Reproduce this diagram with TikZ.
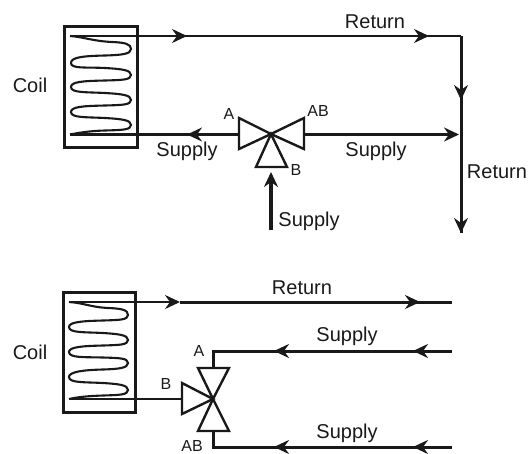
\documentclass[tikz,border=0pt]{standalone}
\usepackage{fontspec}
\setmainfont{Liberation Sans}
\usetikzlibrary{arrows.meta}
\tikzset{
  ink/.style={draw=black!90, line cap=butt},
  pipe/.style={ink, line width=2.2pt},
  thickpipe/.style={ink, line width=3pt},
  box/.style={ink, line width=3pt},
  coilline/.style={ink, line width=2.1pt},
  valve/.style={ink, line width=2.4pt, line join=miter, fill=white},
  head/.style={-{Stealth[length=15pt,width=14pt,inset=5pt]}},
  lab/.style={font=\fontsize{20}{22}\selectfont, text=black!90, inner sep=0pt},
  port/.style={font=\fontsize{16}{18}\selectfont, text=black!90, inner sep=0pt},
}
\begin{document}
\begin{tikzpicture}[x=1pt,y=-1pt]
\useasboundingbox (0,0) rectangle (530,453);

% ---------- upper circuit ----------
\coordinate (uTopOut) at (70,36);
\coordinate (uTopMid) at (187,36);
\coordinate (uTopArrow) at (429,36);
\coordinate (uCorner) at (461,36);
\coordinate (uMidArrow) at (461,100);
\coordinate (uEnd) at (461,233);
\coordinate (uTee) at (459,134.5);
\coordinate (uBotOut) at (70,134.5);
\coordinate (uC) at (271,134);
\coordinate (uA1) at (239,118);
\coordinate (uA2) at (239,149);
\coordinate (uAB1) at (304,118);
\coordinate (uAB2) at (304,149);
\coordinate (uB1) at (256,167);
\coordinate (uB2) at (287,167);
\coordinate (uA) at (239,134.5);
\coordinate (uAB) at (304,134.5);
\coordinate (uSupArrow) at (187,134.5);
\coordinate (uSupTip) at (271,172);
\coordinate (uSupStart) at (271,230);

\draw[box] (64,26) rectangle (137,147);
\draw[coilline] (uTopOut) .. controls (84,37) and (92,41) .. (112,42)
  .. controls (125,42.5) and (131,44) .. (131,49)
  .. controls (131,54) and (122,55) .. (105,55.5)
  .. controls (84,56) and (71,57) .. (71,63)
  .. controls (71,69) and (86,67) .. (105,68)
  .. controls (122,69) and (131,70) .. (131,75)
  .. controls (131,80) and (122,80) .. (105,80.5)
  .. controls (84,81) and (71,81.5) .. (71,87)
  .. controls (71,93) and (86,92) .. (105,93)
  .. controls (122,94) and (131,95) .. (131,100)
  .. controls (131,105) and (122,105) .. (105,105.5)
  .. controls (84,106) and (71,106.5) .. (71,112)
  .. controls (71,118) and (86,117) .. (105,118)
  .. controls (122,119) and (131,120) .. (131,125)
  .. controls (131,130) and (122,130) .. (105,130.5)
  .. controls (88,131) and (78,133) .. (uBotOut);

\draw[pipe] (uTopOut) -- (uCorner);
\draw[pipe,head] (uTopOut) -- (uTopMid);
\draw[pipe,head] (uTopMid) -- (uTopArrow);
\draw[thickpipe] (uCorner) -- (uEnd);
\draw[thickpipe,head] (uCorner) -- (uMidArrow);
\draw[thickpipe,head] (uMidArrow) -- (uEnd);
\draw[thickpipe,head] (uAB) -- (uTee);
\draw[pipe] (uA) -- (uBotOut);
\draw[pipe,head] (uA) -- (uSupArrow);
\draw[ink,line width=3.4pt,head] (uSupStart) -- (uSupTip);

\draw[valve] (uC) -- (uA1) -- (uA2) -- cycle;
\draw[valve] (uC) -- (uAB1) -- (uAB2) -- cycle;
\draw[valve] (uC) -- (uB1) -- (uB2) -- cycle;

\node[lab] (uCoil) at (30,85) {Coil};
\node[lab] (uRet1) at (375,22) {Return};
\node[lab] (uRet2) at (497,172) {Return};
\node[lab] (uSup1) at (187,151) {Supply};
\node[lab] (uSup2) at (376,151) {Supply};
\node[lab] (uSup3) at (309,221) {Supply};
\node[port] (uLA) at (229,114) {A};
\node[port] (uLAB) at (318,111) {AB};
\node[port] (uLB) at (296,170) {B};

% ---------- lower circuit ----------
\coordinate (lTopOut) at (69,302);
\coordinate (lTopArrow) at (180,302);
\coordinate (lTopArrow2) at (420,302);
\coordinate (lTopEnd) at (452,302);
\coordinate (lBotOut) at (69,399);
\coordinate (lC) at (213,399);
\coordinate (lA1) at (198,368);
\coordinate (lA2) at (229,368);
\coordinate (lAB1) at (198,431);
\coordinate (lAB2) at (229,431);
\coordinate (lB1) at (182,383);
\coordinate (lB2) at (182,414);
\coordinate (lA) at (213,368);
\coordinate (lAcorner) at (213,351);
\coordinate (lAB) at (213,431);
\coordinate (lABcorner) at (213,447);
\coordinate (lB) at (182,399);
\coordinate (lAin) at (452,351);
\coordinate (lAm1) at (413,351);
\coordinate (lAm2) at (274,351);
\coordinate (lABin) at (452,447);
\coordinate (lABm1) at (413,447);
\coordinate (lABm2) at (274,447);

\draw[box] (63.3,292.3) rectangle (135.3,412.3);
\draw[coilline] (lTopOut) .. controls (84,303) and (90,307) .. (108,308)
  .. controls (122,308.5) and (128,310) .. (128,315)
  .. controls (128,320) and (119,320) .. (103,320.5)
  .. controls (82,321) and (69,322) .. (69,327)
  .. controls (69,333) and (84,332) .. (103,333)
  .. controls (119,334) and (128,335) .. (128,340)
  .. controls (128,345) and (119,345) .. (103,345.5)
  .. controls (82,346) and (69,347) .. (69,352)
  .. controls (69,358) and (84,357) .. (103,357.5)
  .. controls (119,358) and (128,358) .. (128,363)
  .. controls (128,368) and (119,369) .. (103,369.5)
  .. controls (82,370) and (69,372) .. (69,377)
  .. controls (69,383) and (84,382) .. (103,383)
  .. controls (119,384) and (128,385) .. (128,390)
  .. controls (128,395) and (119,395) .. (103,395.5)
  .. controls (88,396) and (78,397) .. (lBotOut);

\draw[pipe,head] (lTopOut) -- (lTopArrow);
\draw[thickpipe] (lTopArrow) -- (lTopEnd);
\draw[thickpipe,head] (lTopArrow) -- (lTopArrow2);
\draw[pipe] (lBotOut) -- (lB);
\draw[thickpipe,line join=miter] (lAin) -- (lAcorner) -- (lA);
\draw[thickpipe,head] (lAin) -- (lAm1);
\draw[thickpipe,head] (lAm1) -- (lAm2);
\draw[thickpipe,line join=miter] (lABin) -- (lABcorner) -- (lAB);
\draw[thickpipe,head] (lABin) -- (lABm1);
\draw[thickpipe,head] (lABm1) -- (lABm2);

\draw[valve] (lC) -- (lA1) -- (lA2) -- cycle;
\draw[valve] (lC) -- (lAB1) -- (lAB2) -- cycle;
\draw[valve] (lC) -- (lB1) -- (lB2) -- cycle;

\node[lab] (lCoil) at (30,352) {Coil};
\node[lab] (lRet) at (302,288) {Return};
\node[lab] (lSup1) at (347,336) {Supply};
\node[lab] (lSup2) at (347,433) {Supply};
\node[port] (lLA) at (199,351) {A};
\node[port] (lLB) at (166,384) {B};
\node[port] (lLAB) at (192,445.5) {AB};
\end{tikzpicture}
\end{document}
